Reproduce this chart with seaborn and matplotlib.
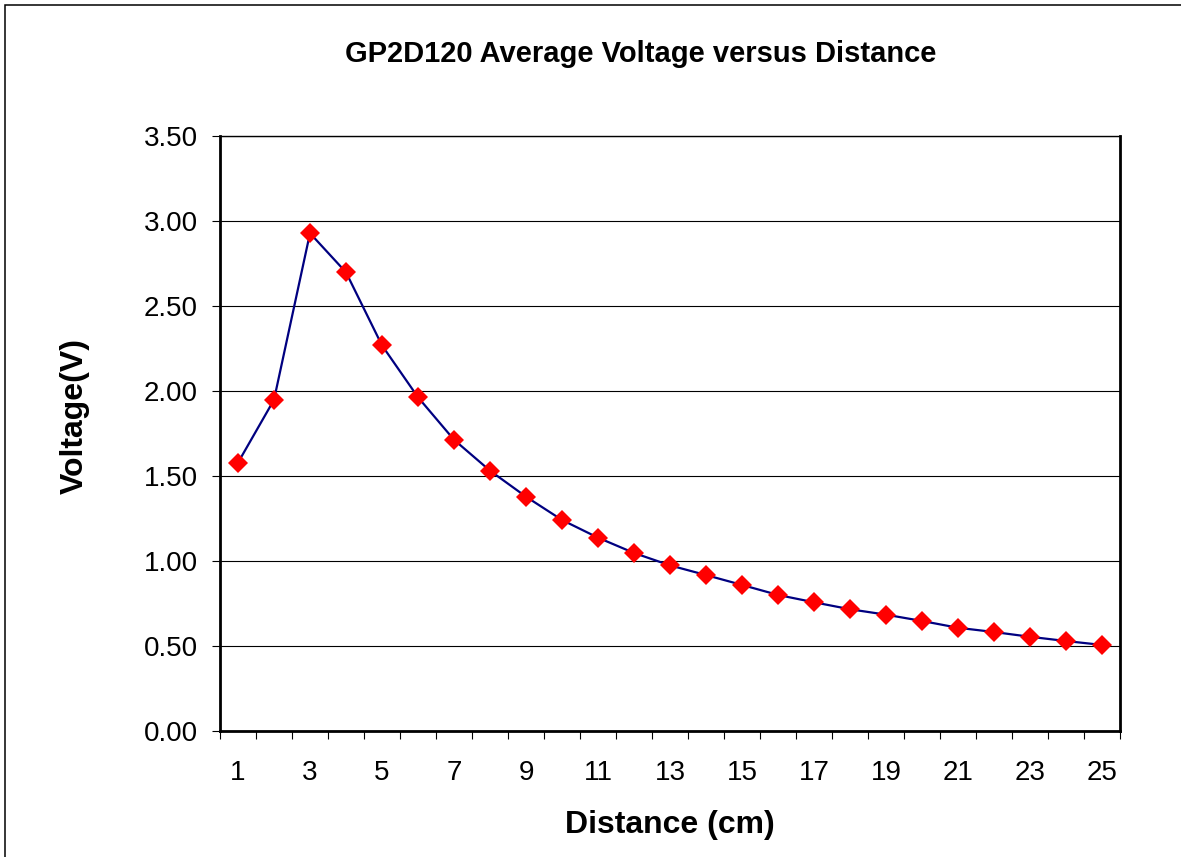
import numpy as np
import pandas as pd
import matplotlib
matplotlib.use("Agg")
import matplotlib.pyplot as plt
from matplotlib.patches import Rectangle
import seaborn as sns

# ---- data ----
distance_cm = list(range(1, 26))
voltage_v = [1.58, 1.95, 2.93, 2.70, 2.27, 1.965, 1.715, 1.533, 1.380, 1.243,
             1.139, 1.049, 0.976, 0.919, 0.861, 0.802, 0.759, 0.718, 0.686, 0.649,
             0.609, 0.584, 0.556, 0.531, 0.508]
y_ticks = [0.0, 0.5, 1.0, 1.5, 2.0, 2.5, 3.0, 3.5]
x_tick_labels = [str(v) for v in range(1, 26, 2)]

title = "GP2D120 Average Voltage versus Distance"
xlabel = "Distance (cm)"
ylabel = "Voltage(V)"

df = pd.DataFrame({"Distance": distance_cm, "Voltage": voltage_v})

sns.set_theme(style="white")
plt.rcParams["font.family"] = ["Liberation Sans", "DejaVu Sans"]

W, H = 1181, 857
fig = plt.figure(figsize=(W / 100, H / 100), dpi=100)
fig.patch.set_facecolor("white")

left, right, top, bottom = 220, 1120, 136.3, 731.3
ax = fig.add_axes([left / W, 1 - bottom / H, (right - left) / W, (bottom - top) / H])
ax.set_facecolor("white")

sns.lineplot(data=df, x="Distance", y="Voltage", ax=ax, color="#000080",
             linewidth=1.6, marker="D", markersize=10.5,
             markerfacecolor="#ff0000", markeredgecolor="#ff0000",
             markeredgewidth=0, zorder=3)

ax.set_xlim(0.5, 25.5)
ax.set_ylim(0, 3.5)

# y axis
ax.set_yticks(y_ticks)
ax.set_yticklabels([f"{v:.2f}" for v in y_ticks])
ax.yaxis.grid(True, color="#000000", linewidth=0.8)
ax.xaxis.grid(False)
ax.tick_params(axis="y", which="major", direction="out", length=6, width=0.8,
               color="#000000", pad=10, labelsize=20, labelcolor="black", left=True)

# x axis: labels at odd categories, tick marks between categories
ax.set_xticks(list(range(1, 26, 2)))
ax.set_xticklabels(x_tick_labels)
ax.set_xticks([v + 0.5 for v in range(0, 26)], minor=True)
ax.tick_params(axis="x", which="major", length=0, pad=21, labelsize=20,
               labelcolor="black", bottom=True)
ax.tick_params(axis="x", which="minor", direction="out", length=6, width=0.8,
               color="#000000", bottom=True)

for side in ["left", "bottom", "right"]:
    ax.spines[side].set_visible(True)
    ax.spines[side].set_color("black")
    ax.spines[side].set_linewidth(2.0)
ax.spines["top"].set_visible(True)
ax.spines["top"].set_color("black")
ax.spines["top"].set_linewidth(1.0)

ax.set_xlabel("")
ax.set_ylabel("")

fig.text(641 / W, 1 - 62 / H, title, ha="center", va="baseline",
         fontsize=21, fontweight="bold", color="black")
fig.text(670 / W, 1 - 833 / H, xlabel, ha="center", va="baseline",
         fontsize=23, fontweight="bold", color="black")
fig.text(75 / W, 1 - 416 / H, ylabel, ha="center", va="center", rotation=90,
         fontsize=23, fontweight="bold", color="black")

# outer chart-area border (cropped on right and bottom)
fig.patches.append(Rectangle((5 / W, -0.1), 1.2, 1 - 5 / H + 0.1,
                             transform=fig.transFigure, fill=False,
                             edgecolor="black", linewidth=1.1, clip_on=False))

fig.savefig("out.png", dpi=100, facecolor="white")
